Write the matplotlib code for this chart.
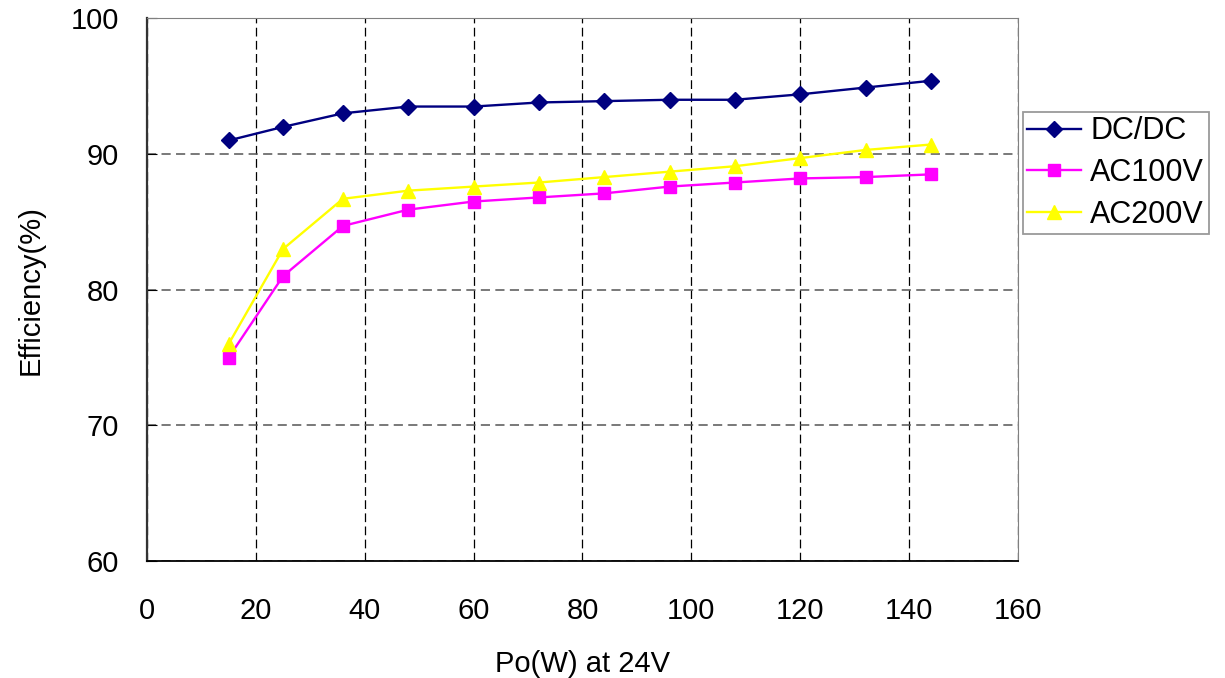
import matplotlib
matplotlib.use("Agg")
import matplotlib.pyplot as plt

plt.rcParams['font.family'] = ['Liberation Sans', 'DejaVu Sans']

# output power (W) at 24V
power = [15, 25, 36, 48, 60, 72, 84, 96, 108, 120, 132, 144]

# efficiency (%)
dcdc = [91.0, 92.0, 93.0, 93.5, 93.5, 93.8, 93.9, 94.0, 94.0, 94.4, 94.9, 95.4]
ac100 = [75.0, 81.0, 84.7, 85.9, 86.5, 86.8, 87.1, 87.6, 87.9, 88.2, 88.3, 88.5]
ac200 = [76.0, 83.0, 86.7, 87.3, 87.6, 87.9, 88.3, 88.7, 89.1, 89.7, 90.3, 90.7]

x_ticks = [0, 20, 40, 60, 80, 100, 120, 140, 160]
y_ticks = [60, 70, 80, 90, 100]

fig = plt.figure(figsize=(12.25, 6.78), dpi=100)
ax = fig.add_axes([0.12, 0.1726, 0.711, 0.8003])

ax.plot(power, dcdc, color='#000080', marker='D', markersize=8.5, lw=1.7, label='DC/DC')
ax.plot(power, ac100, color='#FF00FF', marker='s', markersize=8.5, lw=1.7, label='AC100V')
ax.plot(power, ac200, color='#FFFF00', marker='^', markersize=10.5, lw=1.7, label='AC200V')

ax.set_xlim(0, 160)
ax.set_ylim(60, 100)
ax.set_xticks(x_ticks)
ax.set_yticks(y_ticks)
ax.tick_params(axis='x', length=0, pad=26, labelsize=21)
ax.tick_params(axis='y', direction='in', length=7, pad=20, labelsize=21)

# dashed grid like the spreadsheet original
ax.xaxis.grid(True, color='black', linestyle=(0, (7, 3.5)), linewidth=0.9)
ax.yaxis.grid(True, color='#555555', linestyle=(0, (6, 3.5)), linewidth=1.1)
ax.set_axisbelow(True)

for side in ['top', 'right']:
    ax.spines[side].set_color('#808080')
ax.spines['left'].set_color('#333333')
ax.spines['left'].set_linewidth(1.6)
ax.spines['bottom'].set_color('black')
ax.spines['bottom'].set_linewidth(1.3)

ax.set_xlabel('Po(W) at 24V', fontsize=21, labelpad=18)
ax.set_ylabel('Efficiency(%)', fontsize=21, labelpad=19)

leg = fig.legend(loc='upper left', bbox_to_anchor=(0.835, 0.835), fontsize=22,
                 frameon=True, fancybox=False, edgecolor='#808080',
                 handlelength=1.75, borderaxespad=0, borderpad=0.15,
                 labelspacing=0.38, handletextpad=0.3)
leg.get_frame().set_linewidth(1.3)

fig.savefig('out.png', dpi=100)
